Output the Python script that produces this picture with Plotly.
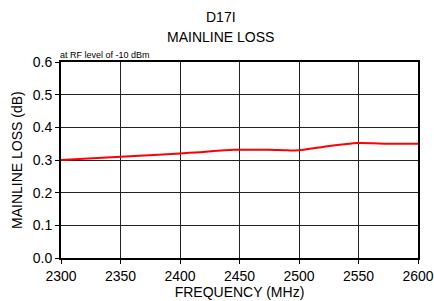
import plotly.graph_objects as go

freq = [2300, 2350, 2400, 2417, 2445, 2475, 2490, 2500, 2520, 2549, 2575, 2600]
loss = [0.300, 0.310, 0.320, 0.324, 0.331, 0.331, 0.3295, 0.330, 0.340, 0.352, 0.350, 0.350]

x_ticks = [2300, 2350, 2400, 2450, 2500, 2550, 2600]
y_ticks = [0.0, 0.1, 0.2, 0.3, 0.4, 0.5, 0.6]

fig = go.Figure()
fig.add_trace(go.Scatter(x=freq, y=loss, mode="lines",
                         line=dict(color="#ff0000", width=2, shape="spline", smoothing=0.6),
                         showlegend=False, hoverinfo="skip"))

font = "Liberation Sans, Arial, sans-serif"
fig.update_layout(
    width=434, height=301,
    margin=dict(l=61, r=16, t=62, b=43),
    paper_bgcolor="white", plot_bgcolor="white",
    font=dict(family=font, size=14, color="black"),
    xaxis=dict(range=[2300, 2600], tickvals=x_ticks, ticktext=[str(v) for v in x_ticks],
               showgrid=True, gridcolor="#222222", gridwidth=1,
               showline=True, linecolor="black", linewidth=2, mirror=True,
               ticks="outside", ticklen=4, tickcolor="black",
               automargin=False,
               title=dict(text="FREQUENCY (MHz)", standoff=0, font=dict(size=14)),
               zeroline=False),
    yaxis=dict(range=[0, 0.6], tickvals=y_ticks, ticktext=[f"{v:.1f}" for v in y_ticks],
               showgrid=True, gridcolor="#222222", gridwidth=1,
               showline=True, linecolor="black", linewidth=2, mirror=True,
               ticks="outside", ticklen=4, tickcolor="black",
               automargin=False, zeroline=False),
    annotations=[
        dict(text="D17I", x=0.448, y=1, xref="paper", yref="paper",
             xanchor="center", yanchor="middle", yshift=45, showarrow=False,
             font=dict(size=14, family=font)),
        dict(text="MAINLINE LOSS", x=0.448, y=1, xref="paper", yref="paper",
             xanchor="center", yanchor="middle", yshift=25, showarrow=False,
             font=dict(size=14, family=font)),
        dict(text="MAINLINE LOSS (dB)", x=0, y=0.5, xref="paper", yref="paper",
             xanchor="center", yanchor="middle", xshift=-44, textangle=-90,
             showarrow=False, font=dict(size=14, family=font)),
        dict(text="at RF level of -10 dBm", x=0, y=1, xref="paper", yref="paper",
             xanchor="left", yanchor="bottom", showarrow=False,
             xshift=-3, font=dict(size=9, family=font)),
    ],
)

fig.write_html("out.html", config={"displayModeBar": False},
               post_script="document.body.style.margin='0';")
